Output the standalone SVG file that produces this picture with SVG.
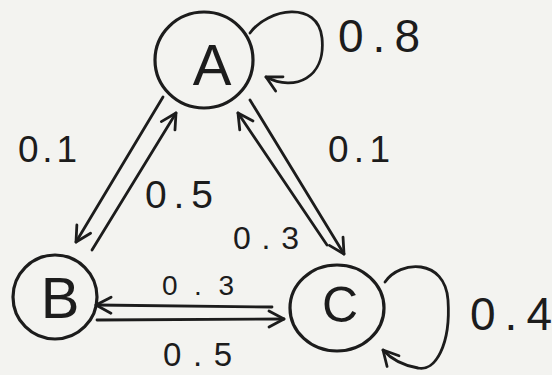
<svg xmlns="http://www.w3.org/2000/svg" width="552" height="375" viewBox="0 0 552 375">
<style>
.n{fill:none;stroke:#1c1c1c;stroke-width:3.2}
.e{fill:none;stroke:#1c1c1c;stroke-width:2.8;stroke-linecap:round;stroke-linejoin:round}
.t{font-family:"Liberation Sans",Arial,sans-serif;fill:#1c1c1c}
.lbl{font-family:"Liberation Sans",Arial,sans-serif;fill:#1c1c1c}
</style>
<defs>
<marker id="ah" viewBox="-18 -10 20 20" refX="0" refY="0" markerWidth="20" markerHeight="20" markerUnits="userSpaceOnUse" orient="auto">
<path d="M-15,-8 L0,0 L-15,8" fill="none" stroke="#1c1c1c" stroke-width="2.8" stroke-linecap="round" stroke-linejoin="round"/>
</marker>
</defs>
<rect width="552" height="375" fill="#f3f3f0"/>
<g id="A">
<ellipse class="n" cx="204" cy="60" rx="49" ry="48"/>
<text class="t" x="212" y="85" font-size="58" text-anchor="middle">A</text>
</g>
<g id="B">
<ellipse class="n" cx="55" cy="297" rx="42" ry="42"/>
<text class="t" x="60" y="318" font-size="58" text-anchor="middle">B</text>
</g>
<g id="C">
<ellipse class="n" cx="337" cy="308" rx="47" ry="43"/>
<text class="t" x="340" y="322" font-size="50" text-anchor="middle">C</text>
</g>
<g id="connectors">
<path class="e" d="M250,33 C268,8 318,0 322,38 C326,78 295,92 266,77" marker-end="url(#ah)"/>
<path class="e" d="M385,282 C400,260 445,258 448,300 C451,345 435,372 418,368 C406,366 392,360 383,350" marker-end="url(#ah)"/>
<path class="e" d="M163,97 L76,242" marker-end="url(#ah)"/>
<path class="e" d="M92,250 L176,113" marker-end="url(#ah)"/>
<path class="e" d="M327,245 L238,113" marker-end="url(#ah)"/>
<path class="e" d="M250,100 L344,254" marker-end="url(#ah)"/>
<path class="e" d="M272,307 L96,305" marker-end="url(#ah)"/>
<path class="e" d="M97,320 L284,319" marker-end="url(#ah)"/>
</g>
<g id="labels">
<text class="lbl" x="338" y="52" font-size="46" textLength="82" lengthAdjust="spacing">0.8</text>
<text class="lbl" x="18" y="162" font-size="37" textLength="59" lengthAdjust="spacing">0.1</text>
<text class="lbl" x="328" y="162" font-size="37" textLength="62" lengthAdjust="spacing">0.1</text>
<text class="lbl" x="145" y="208" font-size="39" textLength="68" lengthAdjust="spacing">0.5</text>
<text class="lbl" x="233" y="249" font-size="32" textLength="66" lengthAdjust="spacing">0.3</text>
<text class="lbl" x="162" y="295" font-size="28" textLength="72" lengthAdjust="spacing">0.3</text>
<text class="lbl" x="163" y="366" font-size="33" textLength="69" lengthAdjust="spacing">0.5</text>
<text class="lbl" x="470" y="330" font-size="46" textLength="82" lengthAdjust="spacing">0.4</text>
</g>
</svg>
